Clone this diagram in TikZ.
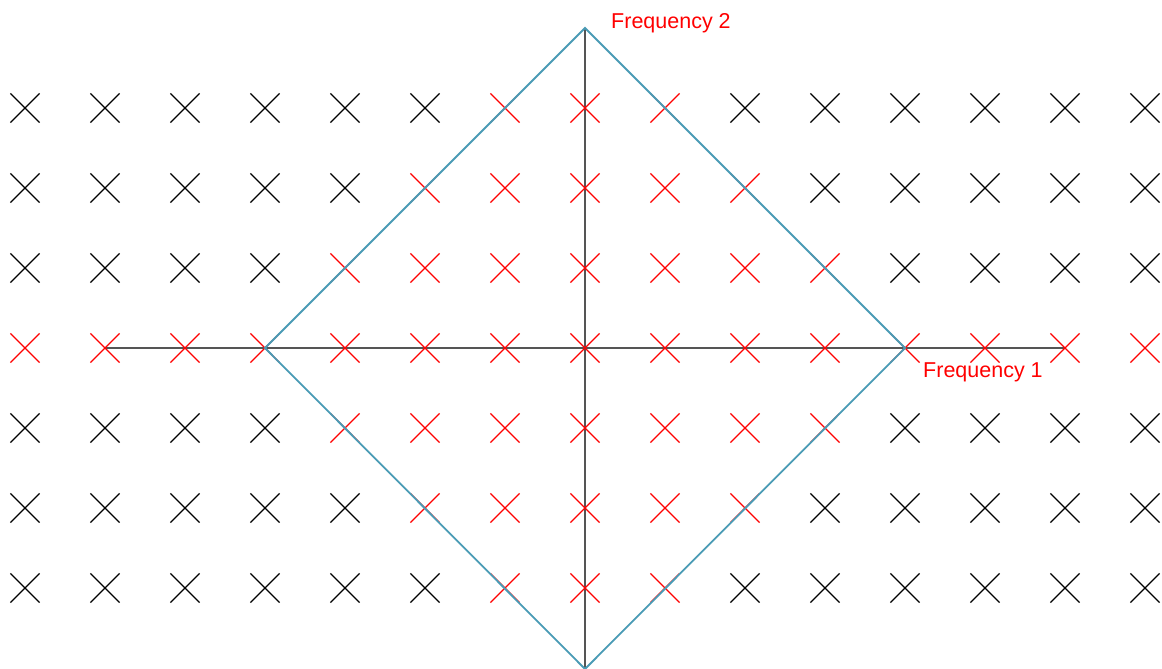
\documentclass[tikz,border=0pt]{standalone}
\usepackage{fontspec}
\setmainfont{Liberation Sans}
\usetikzlibrary{shapes.misc}
\definecolor{axisgray}{RGB}{85,85,85}
\definecolor{diamblue}{RGB}{74,155,181}
\definecolor{lblred}{RGB}{255,0,0}
\begin{document}
\begin{tikzpicture}[x=1pt,y=-1pt,
  mk/.style={cross out,draw,inner sep=0pt,minimum size=28pt,line width=1.2pt},
  mkin/.style={mk,draw=lblred},
  mkout/.style={mk,draw=black},
  axisline/.style={draw=axisgray,line width=2.7pt},
  diamline/.style={draw=diamblue,line width=1.8pt,line join=miter},
  lbl/.style={text=lblred,font=\fontsize{21.5}{24}\selectfont,inner sep=0pt}]
\useasboundingbox (0,0) rectangle (1162,669);
% named coordinates
\coordinate (top) at (585,28);
\coordinate (bot) at (585,669);
\coordinate (left) at (265,348);
\coordinate (right) at (905,348);
\coordinate (hl) at (105,348);
\coordinate (hr) at (1065,348);
% axes
\draw[axisline] (top) -- (bot);
\draw[axisline] (hl) -- (hr);
% marks
\foreach \i in {-7,...,7}{
  \foreach \j in {-3,...,3}{
    \pgfmathtruncatemacro{\d}{abs(\i)+abs(\j)}
    \ifnum\j=0
      \node[mkin] (m\i\j) at ({585+80*\i},{348+80*\j}) {};
    \else
      \ifnum\d<5
        \node[mkin] (m\i\j) at ({585+80*\i},{348+80*\j}) {};
      \else
        \node[mkout] (m\i\j) at ({585+80*\i},{348+80*\j}) {};
      \fi
    \fi
  }
}
% diamond
\draw[diamline] (top) -- (right) -- (bot) -- (left) -- cycle;
% labels
\node[lbl,anchor=base west] (f2) at (611,28.5) {Frequency 2};
\node[lbl,anchor=base west] (f1) at (923,377.5) {Frequency 1};
\end{tikzpicture}
\end{document}
